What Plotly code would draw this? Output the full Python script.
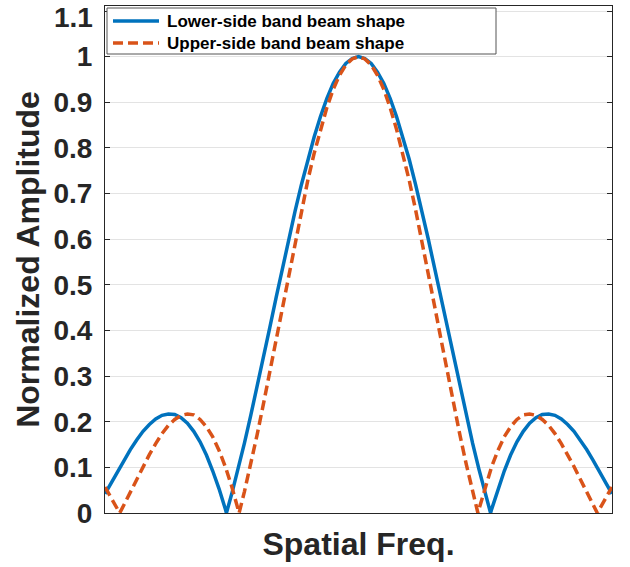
import plotly.graph_objects as go

# Normalized beam amplitude along spatial frequency (arbitrary units, -1..1)
x_lower = [
    -1.000, -0.975, -0.950, -0.925, -0.900, -0.875, -0.850, -0.825, -0.800, -0.775,
    -0.750, -0.725, -0.700, -0.675, -0.650, -0.625, -0.600, -0.575, -0.550, -0.525,
    -0.521, -0.500, -0.475, -0.450, -0.425, -0.400, -0.375, -0.350, -0.325, -0.300,
    -0.275, -0.250, -0.225, -0.200, -0.175, -0.150, -0.125, -0.100, -0.075, -0.050,
    -0.025, 0.000, 0.025, 0.050, 0.075, 0.100, 0.125, 0.150, 0.175, 0.200,
    0.225, 0.250, 0.275, 0.300, 0.325, 0.350, 0.375, 0.400, 0.425, 0.450,
    0.475, 0.500, 0.521, 0.525, 0.550, 0.575, 0.600, 0.625, 0.650, 0.675,
    0.700, 0.725, 0.750, 0.775, 0.800, 0.825, 0.850, 0.875, 0.900, 0.925,
    0.950, 0.975, 1.000,
]
amp_lower = [
    0.042, 0.067, 0.092, 0.116, 0.139, 0.160, 0.179, 0.194, 0.206, 0.214,
    0.217, 0.216, 0.209, 0.197, 0.179, 0.156, 0.127, 0.092, 0.053, 0.008,
    0.000, 0.042, 0.096, 0.153, 0.214, 0.276, 0.341, 0.406, 0.472, 0.537,
    0.601, 0.662, 0.720, 0.775, 0.824, 0.869, 0.908, 0.941, 0.966, 0.985,
    0.996, 1.000, 0.996, 0.985, 0.966, 0.941, 0.908, 0.869, 0.824, 0.775,
    0.720, 0.662, 0.601, 0.537, 0.472, 0.406, 0.341, 0.276, 0.214, 0.153,
    0.096, 0.042, 0.000, 0.008, 0.053, 0.092, 0.127, 0.156, 0.179, 0.197,
    0.209, 0.216, 0.217, 0.214, 0.206, 0.194, 0.179, 0.160, 0.139, 0.116,
    0.092, 0.067, 0.042,
]

x_upper = [
    -1.000, -0.975, -0.950, -0.942, -0.925, -0.900, -0.875, -0.850, -0.825, -0.800,
    -0.775, -0.750, -0.725, -0.700, -0.675, -0.650, -0.625, -0.600, -0.575, -0.550,
    -0.525, -0.500, -0.475, -0.471, -0.450, -0.425, -0.400, -0.375, -0.350, -0.325,
    -0.300, -0.275, -0.250, -0.225, -0.200, -0.175, -0.150, -0.125, -0.100, -0.075,
    -0.050, -0.025, 0.000, 0.025, 0.050, 0.075, 0.100, 0.125, 0.150, 0.175,
    0.200, 0.225, 0.250, 0.275, 0.300, 0.325, 0.350, 0.375, 0.400, 0.425,
    0.450, 0.471, 0.475, 0.500, 0.525, 0.550, 0.575, 0.600, 0.625, 0.650,
    0.675, 0.700, 0.725, 0.750, 0.775, 0.800, 0.825, 0.850, 0.875, 0.900,
    0.925, 0.942, 0.950, 0.975, 1.000,
]
amp_upper = [
    0.057, 0.034, 0.008, 0.000, 0.018, 0.046, 0.074, 0.102, 0.128, 0.152,
    0.174, 0.192, 0.205, 0.214, 0.217, 0.215, 0.205, 0.189, 0.167, 0.137,
    0.101, 0.058, 0.008, 0.000, 0.047, 0.107, 0.171, 0.239, 0.309, 0.382,
    0.454, 0.526, 0.597, 0.665, 0.729, 0.788, 0.841, 0.888, 0.928, 0.959,
    0.982, 0.995, 1.000, 0.995, 0.982, 0.959, 0.928, 0.888, 0.841, 0.788,
    0.729, 0.665, 0.597, 0.526, 0.454, 0.382, 0.309, 0.239, 0.171, 0.107,
    0.047, 0.000, 0.008, 0.058, 0.101, 0.137, 0.167, 0.189, 0.205, 0.215,
    0.217, 0.214, 0.205, 0.192, 0.174, 0.152, 0.128, 0.102, 0.074, 0.046,
    0.018, 0.000, 0.008, 0.034, 0.057,
]

y_ticks = [0, 0.1, 0.2, 0.3, 0.4, 0.5, 0.6, 0.7, 0.8, 0.9, 1.0, 1.1]
y_tick_labels = ["0", "0.1", "0.2", "0.3", "0.4", "0.5", "0.6", "0.7", "0.8", "0.9", "1", "1.1"]

series_names = ["Lower-side band beam shape", "Upper-side band beam shape"]
BLUE = "#0072BD"
ORANGE = "#D95319"
INK = "#262626"
FONT = "Liberation Sans, Arial, Helvetica, sans-serif"
TICK_FONT = dict(family=FONT, size=28, color=INK, weight="bold")

fig = go.Figure()
fig.add_trace(go.Scatter(
    x=x_lower, y=amp_lower, mode="lines", name=series_names[0],
    line=dict(color=BLUE, width=3.5), showlegend=False,
))
fig.add_trace(go.Scatter(
    x=x_upper, y=amp_upper, mode="lines", name=series_names[1],
    line=dict(color=ORANGE, width=3.5, dash="10px,5px"), showlegend=False,
))

# Plot-area geometry in pixels, used to place the legend box
W, H = 630, 567
ML, MR, MT, MB = 105, 18, 6, 54
PW, PH = W - ML - MR, H - MT - MB


def px_x(p):
    return (p - ML) / PW


def px_y(p):
    return (H - MB - p) / PH


shapes = [
    dict(type="rect", xref="paper", yref="paper",
         x0=px_x(107), x1=px_x(496), y0=px_y(54), y1=px_y(8),
         fillcolor="white", line=dict(color="#555555", width=1), layer="above"),
]
annotations = []
rows = [(21, BLUE, "solid"), (43, ORANGE, "10px,5px")]
for (row_y, color, dash), name in zip(rows, series_names):
    shapes.append(dict(type="line", xref="paper", yref="paper",
                       x0=px_x(113), x1=px_x(159), y0=px_y(row_y), y1=px_y(row_y),
                       line=dict(color=color, width=3.5, dash=dash), layer="above"))
    annotations.append(dict(xref="paper", yref="paper", x=px_x(165), y=px_y(row_y),
                            xanchor="left", yanchor="middle", showarrow=False,
                            text=name,
                            font=dict(family=FONT, size=17, color="#000000", weight="bold")))

# The topmost tick label sits at the figure edge; draw it nudged down so it stays whole
tick_text = list(y_tick_labels)
top_label = tick_text[-1]
tick_text[-1] = ""
annotations.append(dict(xref="paper", yref="y", x=px_x(95), y=y_ticks[-1], yshift=-6,
                        xanchor="right", yanchor="middle", showarrow=False,
                        text=top_label, font=TICK_FONT))

fig.update_layout(
    width=W, height=H,
    margin=dict(l=ML, r=MR, t=MT, b=MB, pad=0, autoexpand=False),
    paper_bgcolor="white", plot_bgcolor="white",
    font=dict(family=FONT, color=INK),
    shapes=shapes, annotations=annotations,
    showlegend=False,
)
fig.update_xaxes(
    range=[-1, 1], showgrid=False, zeroline=False, showticklabels=False, ticks="",
    showline=True, mirror=True, linecolor=INK, linewidth=1, automargin=False,
    title=dict(text="Spatial Freq.", font=dict(family=FONT, size=32, color=INK, weight="bold"),
               standoff=19),
)
fig.update_yaxes(
    range=[0, 1.111], tickvals=y_ticks, ticktext=tick_text,
    ticks="inside", ticklen=5, tickcolor=INK, tickwidth=1,
    showline=True, mirror="ticks", linecolor=INK, linewidth=1, automargin=False,
    showgrid=True, gridcolor="#e3e3e3", gridwidth=1, zeroline=False,
    tickfont=TICK_FONT,
    ticklabeloverflow="allow", ticklabelstandoff=6,
    title=dict(text="Normalized Amplitude", font=dict(family=FONT, size=32, color=INK, weight="bold"),
               standoff=4),
)

fig.write_html("out.html")
